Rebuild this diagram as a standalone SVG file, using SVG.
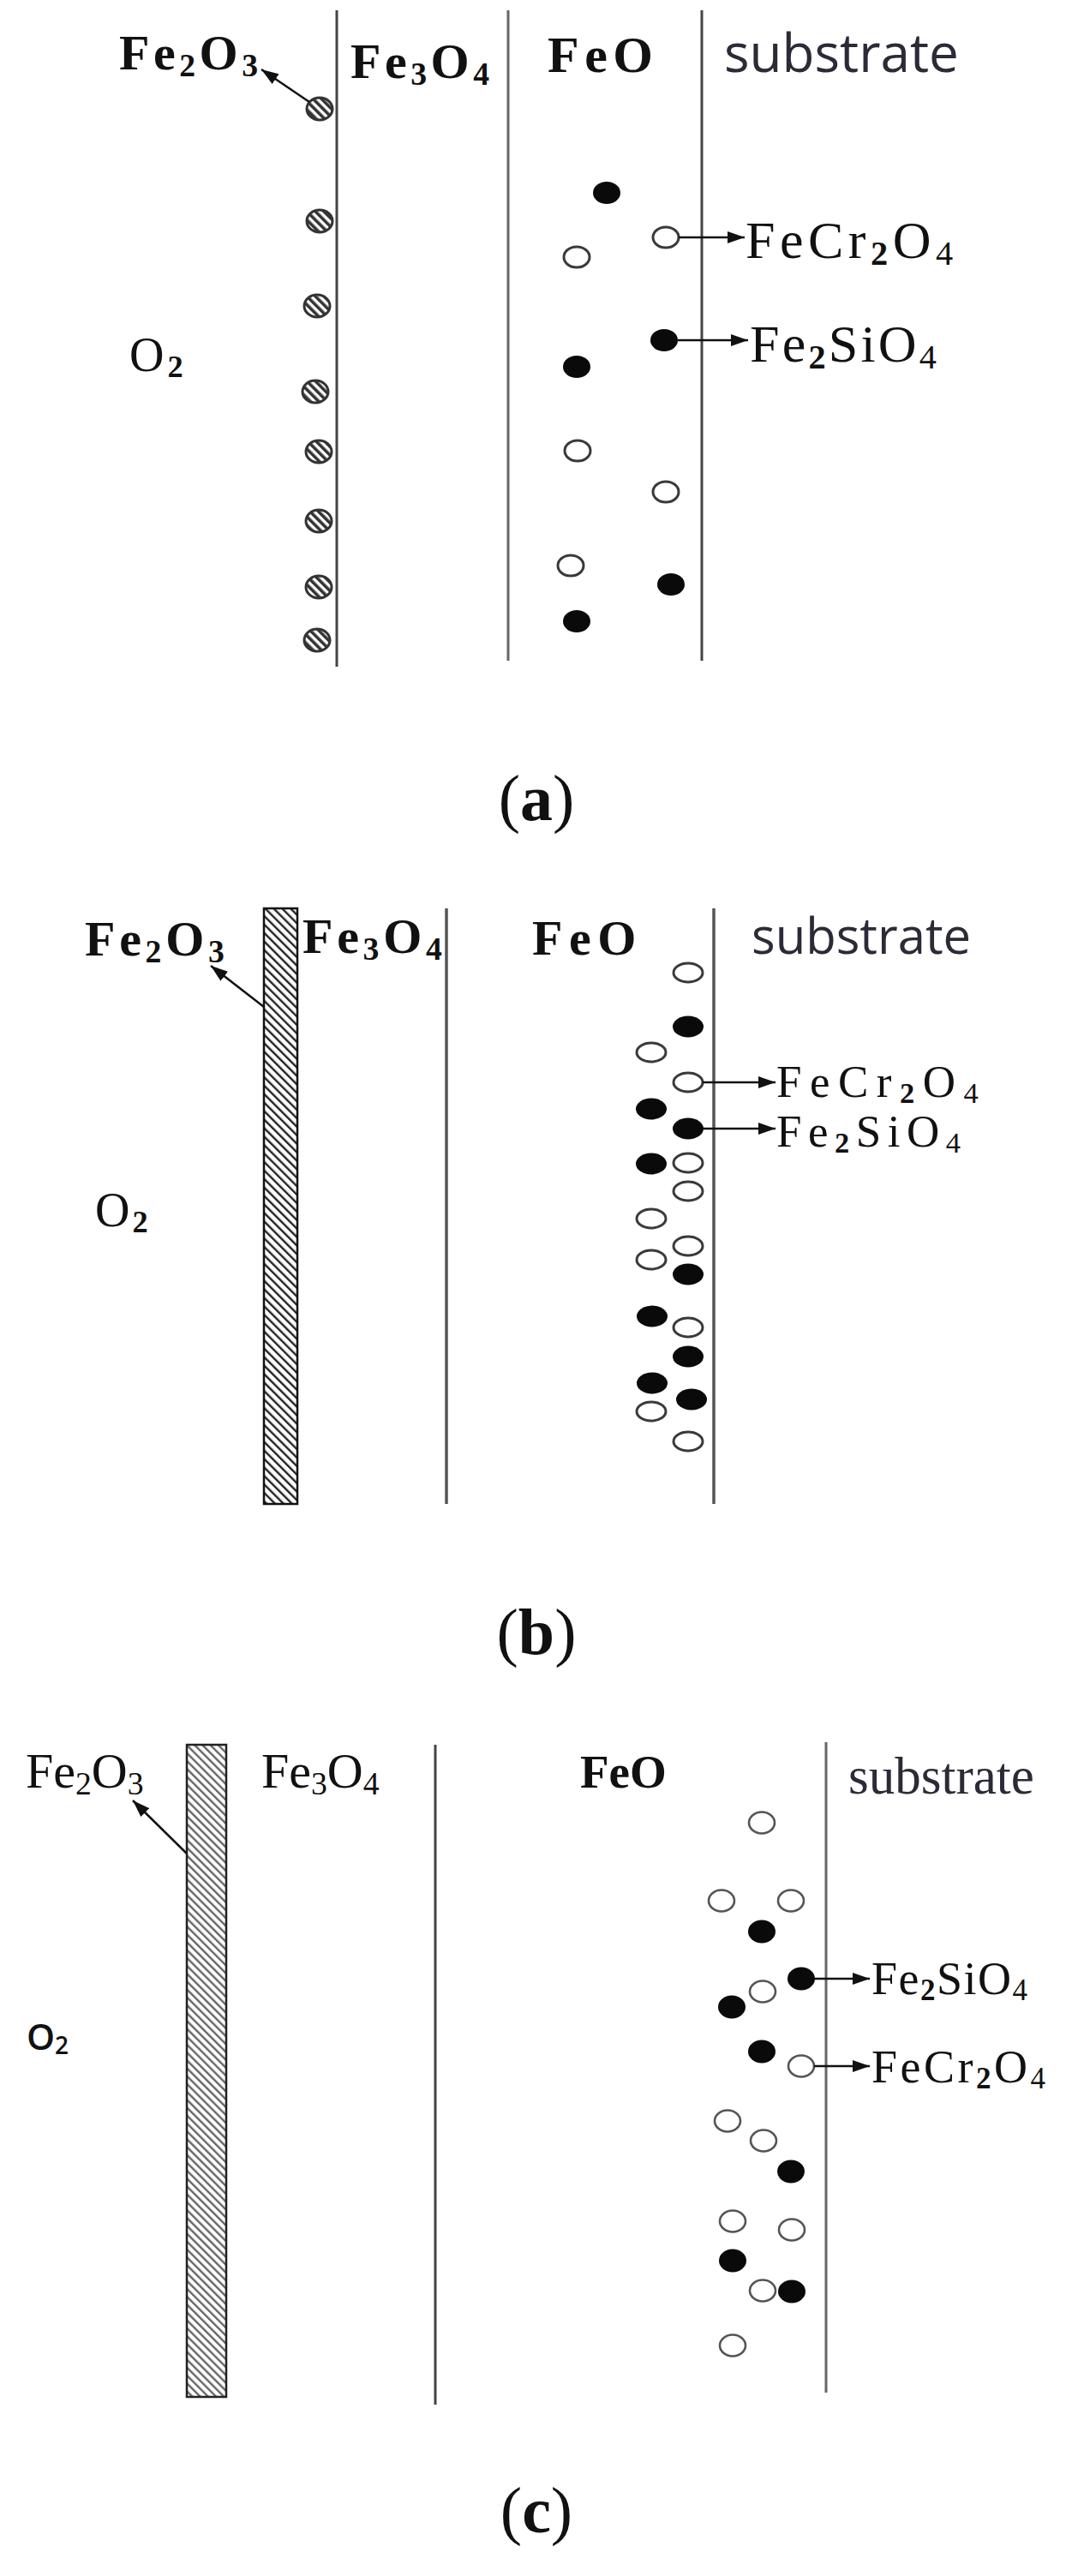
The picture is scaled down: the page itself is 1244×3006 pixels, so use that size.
<svg xmlns="http://www.w3.org/2000/svg" width="1244" height="3006" viewBox="0 0 1244 3006">
<defs>
<style>
.ser{font-family:"Liberation Serif","Times New Roman",serif;fill:#111}
.b{font-weight:bold}
.sans{font-family:"Open Sans","Liberation Sans",sans-serif;fill:#2b2b38}
.sub{font-size:65%}
.lay{stroke:#444;stroke-width:3;fill:none}
.lay2{stroke:#555;stroke-width:3.5;fill:none}
.blk{fill:#0a0a0a}
.opn{fill:#fff;stroke:#3a3a3a;stroke-width:3}
.opnc{fill:#fff;stroke:#555;stroke-width:2.6}
.hd{fill:url(#hatchDot);stroke:#333;stroke-width:3}
.conn{stroke:#111;stroke-width:2.5;fill:none;marker-end:url(#ah)}
.cap{font-family:"Liberation Serif","Times New Roman",serif;fill:#111;font-size:76px}
</style>
<marker id="ah" viewBox="0 0 20 14" refX="20" refY="7" markerWidth="20" markerHeight="14" orient="auto" markerUnits="userSpaceOnUse"><path d="M0,0 L20,7 L0,14 Z" fill="#111"/></marker>
<pattern id="hatchBar" patternUnits="userSpaceOnUse" width="7" height="7" patternTransform="rotate(-45)"><rect width="7" height="7" fill="#fff"/><rect width="2.4" height="7" fill="#222"/></pattern>
<pattern id="hatchBarC" patternUnits="userSpaceOnUse" width="6.5" height="6.5" patternTransform="rotate(-45)"><rect width="6.5" height="6.5" fill="#fff"/><rect width="2.4" height="6.5" fill="#666"/></pattern>
<pattern id="hatchDot" patternUnits="userSpaceOnUse" width="7" height="7" patternTransform="rotate(-45)"><rect width="7" height="7" fill="#fff"/><rect width="3.6" height="7" fill="#333"/></pattern>
</defs>
<rect width="1244" height="3006" fill="#fff"/>

<!-- ===== Panel (a) ===== -->
<g id="panel-a">
  <g id="a-layer-lines">
    <line class="lay" x1="393" y1="12" x2="393" y2="778"/>
    <line class="lay" x1="593" y1="12" x2="593" y2="771" style="stroke:#666"/>
    <line class="lay" x1="819" y1="12" x2="819" y2="771"/>
  </g>
  <g id="a-label-fe2o3"><text class="ser b" x="139" y="81" font-size="58" letter-spacing="4.5">Fe<tspan class="sub" dy="8">2</tspan><tspan dy="-8">O</tspan><tspan class="sub" dy="8">3</tspan></text></g>
  <g id="a-label-fe3o4"><text class="ser b" x="409" y="91" font-size="58" letter-spacing="4.5">Fe<tspan class="sub" dy="8">3</tspan><tspan dy="-8">O</tspan><tspan class="sub" dy="8">4</tspan></text></g>
  <g id="a-label-feo"><text class="ser b" x="639" y="84" font-size="60" letter-spacing="6.5">FeO</text></g>
  <g id="a-label-substrate"><text class="sans" x="845" y="84" font-size="62">substrate</text></g>
  <g id="a-label-o2"><text class="ser" x="151" y="433" font-size="56" letter-spacing="4">O<tspan class="sub b" dy="7">2</tspan></text></g>
  <g id="a-label-fecr2o4"><text class="ser" x="870" y="301" font-size="62" letter-spacing="5.5">FeCr<tspan class="sub b" dy="8">2</tspan><tspan dy="-8">O</tspan><tspan class="sub" dy="8">4</tspan></text></g>
  <g id="a-label-fe2sio4"><text class="ser" x="875" y="422" font-size="62" letter-spacing="3.2">Fe<tspan class="sub b" dy="8">2</tspan><tspan dy="-8">SiO</tspan><tspan class="sub" dy="8">4</tspan></text></g>
  <g id="a-fe2o3-particles">
    <ellipse class="hd" cx="373" cy="127" rx="15" ry="13"/>
    <ellipse class="hd" cx="373" cy="258" rx="15" ry="13"/>
    <ellipse class="hd" cx="370" cy="357" rx="15" ry="13"/>
    <ellipse class="hd" cx="368" cy="457" rx="15" ry="13"/>
    <ellipse class="hd" cx="372" cy="527" rx="15" ry="13"/>
    <ellipse class="hd" cx="372" cy="608" rx="15" ry="13"/>
    <ellipse class="hd" cx="372" cy="685" rx="15" ry="13"/>
    <ellipse class="hd" cx="370" cy="747" rx="15" ry="13"/>
  </g>
  <g id="a-fe2sio4-particles">
    <ellipse class="blk" cx="708" cy="225" rx="16" ry="13"/>
    <ellipse class="blk" cx="775" cy="397" rx="16" ry="13"/>
    <ellipse class="blk" cx="673" cy="428" rx="16" ry="13"/>
    <ellipse class="blk" cx="783" cy="682" rx="16" ry="13"/>
    <ellipse class="blk" cx="673" cy="725" rx="16" ry="13"/>
  </g>
  <g id="a-fecr2o4-particles">
    <ellipse class="opn" cx="673" cy="300" rx="15" ry="12"/>
    <ellipse class="opn" cx="777" cy="277" rx="15" ry="12"/>
    <ellipse class="opn" cx="674" cy="526" rx="15" ry="12"/>
    <ellipse class="opn" cx="777" cy="574" rx="15" ry="12"/>
    <ellipse class="opn" cx="666" cy="660" rx="15" ry="12"/>
  </g>
  <g id="a-caption"><text class="cap" x="626" y="957" text-anchor="middle">(<tspan class="b">a</tspan>)</text></g>
</g>

<!-- ===== Panel (b) ===== -->
<g id="panel-b">
  <g id="b-fe2o3-layer"><rect x="308" y="1060" width="39" height="695" fill="url(#hatchBar)" stroke="#111" stroke-width="2.5"/></g>
  <g id="b-layer-lines">
    <line class="lay2" x1="521" y1="1060" x2="521" y2="1755"/>
    <line class="lay2" x1="833" y1="1060" x2="833" y2="1755"/>
  </g>
  <g id="b-label-fe2o3"><text class="ser b" x="99" y="1115" font-size="58" letter-spacing="4.7">Fe<tspan class="sub" dy="8">2</tspan><tspan dy="-8">O</tspan><tspan class="sub" dy="8">3</tspan></text></g>
  <g id="b-label-fe3o4"><text class="ser b" x="353" y="1112" font-size="58" letter-spacing="4.7">Fe<tspan class="sub" dy="8">3</tspan><tspan dy="-8">O</tspan><tspan class="sub" dy="8">4</tspan></text></g>
  <g id="b-label-feo"><text class="ser b" x="621" y="1114" font-size="58" letter-spacing="7.5">FeO</text></g>
  <g id="b-label-substrate"><text class="sans" x="877" y="1113" font-size="58">substrate</text></g>
  <g id="b-label-o2"><text class="ser" x="111" y="1431" font-size="56" letter-spacing="3">O<tspan class="sub b" dy="7">2</tspan></text></g>
  <g id="b-label-fecr2o4"><text class="ser" x="906" y="1280" font-size="53" letter-spacing="9.5">FeCr<tspan class="sub b" dy="7">2</tspan><tspan dy="-7">O</tspan><tspan class="sub" dy="7">4</tspan></text></g>
  <g id="b-label-fe2sio4"><text class="ser" x="906" y="1338" font-size="53" letter-spacing="7.5">Fe<tspan class="sub b" dy="7">2</tspan><tspan dy="-7">SiO</tspan><tspan class="sub" dy="7">4</tspan></text></g>
  <g id="b-fecr2o4-particles">
    <ellipse class="opn" cx="803" cy="1135" rx="17" ry="11"/>
    <ellipse class="opn" cx="760" cy="1228" rx="17" ry="11"/>
    <ellipse class="opn" cx="803" cy="1263" rx="17" ry="11"/>
    <ellipse class="opn" cx="803" cy="1357" rx="17" ry="11"/>
    <ellipse class="opn" cx="803" cy="1390" rx="17" ry="11"/>
    <ellipse class="opn" cx="760" cy="1422" rx="17" ry="11"/>
    <ellipse class="opn" cx="803" cy="1454" rx="17" ry="11"/>
    <ellipse class="opn" cx="760" cy="1470" rx="17" ry="11"/>
    <ellipse class="opn" cx="803" cy="1549" rx="17" ry="11"/>
    <ellipse class="opn" cx="760" cy="1647" rx="17" ry="11"/>
    <ellipse class="opn" cx="803" cy="1682" rx="17" ry="11"/>
  </g>
  <g id="b-fe2sio4-particles">
    <ellipse class="blk" cx="803" cy="1198" rx="18" ry="12.5"/>
    <ellipse class="blk" cx="760" cy="1294" rx="18" ry="12.5"/>
    <ellipse class="blk" cx="803" cy="1317" rx="18" ry="12.5"/>
    <ellipse class="blk" cx="760" cy="1358" rx="18" ry="12.5"/>
    <ellipse class="blk" cx="803" cy="1487" rx="18" ry="12.5"/>
    <ellipse class="blk" cx="761" cy="1536" rx="18" ry="12.5"/>
    <ellipse class="blk" cx="803" cy="1583" rx="18" ry="12.5"/>
    <ellipse class="blk" cx="761" cy="1614" rx="18" ry="12.5"/>
    <ellipse class="blk" cx="807" cy="1633" rx="18" ry="12.5"/>
  </g>
  <g id="b-caption"><text class="cap" x="626" y="1930" text-anchor="middle">(<tspan class="b">b</tspan>)</text></g>
</g>

<!-- ===== Panel (c) ===== -->
<g id="panel-c">
  <g id="c-fe2o3-layer"><rect x="218" y="2036" width="46" height="761" fill="url(#hatchBarC)" stroke="#222" stroke-width="2.5"/></g>
  <g id="c-layer-lines">
    <line class="lay" x1="508" y1="2036" x2="508" y2="2806"/>
    <line class="lay" x1="964" y1="2033" x2="964" y2="2792" style="stroke:#666"/>
  </g>
  <g id="c-label-fe2o3"><text class="ser" x="30" y="2086" font-size="58">Fe<tspan class="sub" dy="8">2</tspan><tspan dy="-8">O</tspan><tspan class="sub" dy="8">3</tspan></text></g>
  <g id="c-label-fe3o4"><text class="ser" x="305" y="2086" font-size="58">Fe<tspan class="sub" dy="8">3</tspan><tspan dy="-8">O</tspan><tspan class="sub" dy="8">4</tspan></text></g>
  <g id="c-label-feo"><text class="ser b" x="677" y="2086" font-size="55">FeO</text></g>
  <g id="c-label-substrate"><text class="ser" x="990" y="2093" font-size="61" style="fill:#2b2b38">substrate</text></g>
  <g id="c-label-o2"><text x="31" y="2392" font-size="42" font-weight="600" style="font-family:'Open Sans','Liberation Sans',sans-serif;fill:#111">O<tspan font-size="28" dy="5">2</tspan></text></g>
  <g id="c-label-fe2sio4"><text class="ser" x="1017" y="2327" font-size="54" letter-spacing="1.5">Fe<tspan class="sub b" dy="7">2</tspan><tspan dy="-7">SiO</tspan><tspan class="sub" dy="7">4</tspan></text></g>
  <g id="c-label-fecr2o4"><text class="ser" x="1017" y="2430" font-size="54" letter-spacing="3.5">FeCr<tspan class="sub b" dy="7">2</tspan><tspan dy="-7">O</tspan><tspan class="sub" dy="7">4</tspan></text></g>
  <g id="c-fecr2o4-particles">
    <ellipse class="opnc" cx="889" cy="2127" rx="15" ry="12.5"/>
    <ellipse class="opnc" cx="842" cy="2218" rx="15" ry="12.5"/>
    <ellipse class="opnc" cx="923" cy="2218" rx="15" ry="12.5"/>
    <ellipse class="opnc" cx="890" cy="2324" rx="15" ry="12.5"/>
    <ellipse class="opnc" cx="935" cy="2411" rx="15" ry="12.5"/>
    <ellipse class="opnc" cx="849" cy="2475" rx="15" ry="12.5"/>
    <ellipse class="opnc" cx="891" cy="2498" rx="15" ry="12.5"/>
    <ellipse class="opnc" cx="855" cy="2592" rx="15" ry="12.5"/>
    <ellipse class="opnc" cx="924" cy="2602" rx="15" ry="12.5"/>
    <ellipse class="opnc" cx="890" cy="2673" rx="15" ry="12.5"/>
    <ellipse class="opnc" cx="855" cy="2737" rx="15" ry="12.5"/>
  </g>
  <g id="c-fe2sio4-particles">
    <ellipse class="blk" cx="889" cy="2254" rx="16" ry="13.5"/>
    <ellipse class="blk" cx="935" cy="2309" rx="16" ry="13.5"/>
    <ellipse class="blk" cx="854" cy="2342" rx="16" ry="13.5"/>
    <ellipse class="blk" cx="889" cy="2394" rx="16" ry="13.5"/>
    <ellipse class="blk" cx="923" cy="2534" rx="16" ry="13.5"/>
    <ellipse class="blk" cx="855" cy="2638" rx="16" ry="13.5"/>
    <ellipse class="blk" cx="924" cy="2674" rx="16" ry="13.5"/>
  </g>
  <g id="c-caption"><text class="cap" x="626" y="2955" text-anchor="middle">(<tspan class="b">c</tspan>)</text></g>
</g>

<!-- ===== Connectors ===== -->
<g id="connectors">
  <line class="conn" x1="361" y1="119" x2="305" y2="81"/>
  <line class="conn" x1="792" y1="277" x2="869" y2="277"/>
  <line class="conn" x1="791" y1="397" x2="873" y2="397"/>
  <line class="conn" x1="308" y1="1175" x2="246" y2="1127"/>
  <line class="conn" x1="820" y1="1263" x2="905" y2="1263"/>
  <line class="conn" x1="820" y1="1317" x2="905" y2="1317"/>
  <line class="conn" x1="218" y1="2163" x2="155" y2="2101"/>
  <line class="conn" x1="950" y1="2309" x2="1015" y2="2309"/>
  <line class="conn" x1="950" y1="2411" x2="1015" y2="2411"/>
</g>
</svg>
